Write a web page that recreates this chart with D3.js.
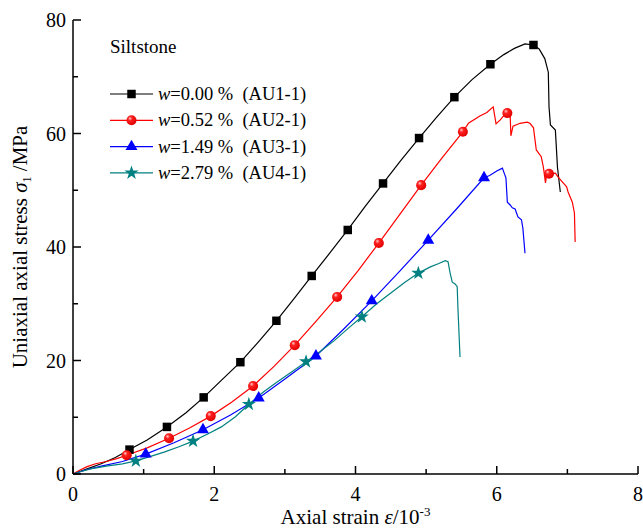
<!DOCTYPE html>
<html>
<head>
<meta charset="utf-8">
<script src="https://cdn.jsdelivr.net/npm/d3@7"></script>
<style>
  body { margin: 0; background: #fff; }
  svg { display: block; }
  text { font-family: "Liberation Serif", "Times New Roman", serif; fill: #000; }
</style>
</head>
<body>
<div id="chart"></div>
<script>
// curves: [strain (10^-3), stress (MPa)]
var au1 = [[0,0],[0.2,0.9],[0.4,1.8],[0.6,2.9],[0.8,4.3],[1.05,6.0],[1.33,8.3],[1.6,10.8],[1.85,13.5],[2.1,16.5],[2.37,19.7],[2.62,23.2],[2.88,27.0],[3.13,30.9],[3.38,34.9],[3.64,39.0],[3.89,43.0],[4.14,47.2],[4.39,51.2],[4.64,55.2],[4.9,59.2],[5.15,62.9],[5.4,66.4],[5.65,69.5],[5.91,72.2],[6.1,73.9],[6.25,75.0],[6.4,75.8],[6.52,75.6],[6.6,74.9],[6.68,73.2],[6.73,70.8],[6.74,64.7],[6.76,61.5],[6.83,60.6],[6.86,54.0],[6.9,49.7]];
var au2 = [[0,0],[0.1,0.7],[0.2,1.3],[0.32,1.8],[0.47,2.2],[0.62,2.7],[0.76,3.3],[1.05,4.6],[1.36,6.3],[1.65,8.1],[1.95,10.2],[2.25,12.7],[2.55,15.5],[2.85,19.0],[3.14,22.7],[3.44,26.9],[3.74,31.2],[4.04,35.9],[4.33,40.7],[4.63,45.8],[4.93,50.9],[5.22,55.6],[5.52,60.3],[5.6,61.8],[5.76,63.1],[5.86,63.7],[5.95,64.7],[5.99,61.7],[6.05,62.4],[6.09,63.0],[6.15,63.6],[6.19,63.3],[6.2,59.6],[6.23,61.3],[6.33,61.8],[6.43,62.0],[6.47,61.8],[6.52,61.0],[6.56,57.1],[6.63,55.9],[6.66,54.1],[6.69,51.3],[6.71,53.0],[6.74,52.9],[6.83,53.0],[6.87,52.3],[6.94,51.3],[6.99,50.6],[7.01,49.7],[7.07,47.9],[7.1,46.0],[7.11,40.9]];
var au3 = [[0,0],[0.1,0.4],[0.2,0.8],[0.4,1.4],[0.7,2.2],[1.03,3.5],[1.43,5.5],[1.84,7.8],[2.23,10.4],[2.63,13.4],[3.03,17.0],[3.44,20.8],[3.83,25.5],[4.23,30.5],[4.63,35.8],[5.03,41.2],[5.43,46.7],[5.82,52.2],[5.9,52.6],[6.0,53.4],[6.08,53.9],[6.1,53.2],[6.13,52.2],[6.15,47.9],[6.19,47.4],[6.22,46.9],[6.26,46.7],[6.3,45.3],[6.35,44.8],[6.37,43.3],[6.4,38.9]];
var au4 = [[0,0],[0.1,0.4],[0.25,0.9],[0.47,1.4],[0.7,1.8],[0.89,2.3],[1.1,3.1],[1.3,3.9],[1.5,4.8],[1.7,5.8],[1.9,7.0],[2.1,8.3],[2.3,10.1],[2.49,12.3],[2.7,14.5],[2.9,16.3],[3.1,18.0],[3.3,19.8],[3.5,21.6],[3.7,23.5],[3.9,25.7],[4.09,27.7],[4.3,30.0],[4.5,31.9],[4.7,33.8],[4.89,35.4],[5.06,36.5],[5.18,37.1],[5.27,37.6],[5.31,37.4],[5.34,35.4],[5.37,33.8],[5.41,33.5],[5.44,33.0],[5.45,29.4],[5.48,20.6]];

// marker positions (strain values where symbols sit)
var marks1 = [0.8,1.33,1.85,2.37,2.88,3.38,3.89,4.39,4.9,5.4,5.91,6.52];
var marks2 = [0.76,1.36,1.95,2.55,3.14,3.74,4.33,4.93,5.52,6.15,6.74];
var marks3 = [1.03,1.84,2.63,3.44,4.23,5.03,5.82];
var marks4 = [0.89,1.7,2.49,3.3,4.09,4.89];

var legendW = ["0.00", "0.52", "1.49", "2.79"];
var legendIds = ["AU1-1", "AU2-1", "AU3-1", "AU4-1"];
var xTicks = [0, 2, 4, 6, 8];
var yTicks = [0, 20, 40, 60, 80];

var W = 643, H = 528;
var margin = {left: 73, right: 5, top: 20, bottom: 54};

var svg = d3.select("#chart").append("svg")
  .attr("width", W).attr("height", H);

var defs = svg.append("defs");
var grad = defs.append("radialGradient").attr("id", "redball")
  .attr("cx", "0.4").attr("cy", "0.4").attr("r", "0.6").attr("fx", "0.35").attr("fy", "0.3");
grad.append("stop").attr("offset", "0").attr("stop-color", "#ffd0d0");
grad.append("stop").attr("offset", "0.35").attr("stop-color", "#ff2020");
grad.append("stop").attr("offset", "1").attr("stop-color", "#e00000");

var x = d3.scaleLinear().domain([0, 8]).range([margin.left, W - margin.right]);
var y = d3.scaleLinear().domain([0, 80]).range([H - margin.bottom, margin.top]);

var series = [
  {data: au1, marks: marks1, color: "#000000", fill: "#000000", sym: d3.symbolSquare, size: 72},
  {data: au2, marks: marks2, color: "#ff0000", fill: "url(#redball)", sym: d3.symbolCircle, size: 80},
  {data: au3, marks: marks3, color: "#0000ff", fill: "#0000ff", sym: d3.symbolTriangle, size: 62},
  {data: au4, marks: marks4, color: "#008080", fill: "#008080", sym: d3.symbolStar, size: 62}
];

var line = d3.line().x(d => x(d[0])).y(d => y(d[1]));

// stress at a given strain, from the curve before the peak
function stressAt(data, sx) {
  for (var i = 1; i < data.length; i++) {
    if (data[i][0] >= sx) {
      var a = data[i - 1], b = data[i];
      var t = (sx - a[0]) / (b[0] - a[0]);
      return a[1] + t * (b[1] - a[1]);
    }
  }
  return data[data.length - 1][1];
}

series.forEach(function(s) {
  svg.append("path")
    .datum(s.data)
    .attr("d", line)
    .attr("fill", "none")
    .attr("stroke", s.color)
    .attr("stroke-width", 1.2);
});

series.forEach(function(s) {
  svg.selectAll(null)
    .data(s.marks)
    .enter().append("path")
    .attr("d", d3.symbol().type(s.sym).size(s.size))
    .attr("transform", d => "translate(" + x(d) + "," + y(stressAt(s.data, d)) + ")")
    .attr("fill", s.fill);
});

// axes
var x0 = x(0), y0 = y(0);
var ax = svg.append("g").attr("stroke", "#000").attr("stroke-width", 1.5);
ax.append("line").attr("x1", x0).attr("x2", x0).attr("y1", y(80)).attr("y2", y0);
ax.append("line").attr("x1", x0).attr("x2", x(8)).attr("y1", y0).attr("y2", y0);

d3.range(0, 81, 10).forEach(function(v) {
  var len = v % 20 === 0 ? 8 : 5;
  ax.append("line").attr("x1", x0).attr("x2", x0 + len).attr("y1", y(v)).attr("y2", y(v));
});
d3.range(0, 9, 1).forEach(function(v) {
  var len = v % 2 === 0 ? 8 : 5;
  ax.append("line").attr("x1", x(v)).attr("x2", x(v)).attr("y1", y0).attr("y2", y0 - len);
});

svg.selectAll(".ylab")
  .data(yTicks)
  .enter().append("text")
  .attr("x", x0 - 7)
  .attr("y", d => y(d) + 7)
  .attr("text-anchor", "end")
  .attr("font-size", 20)
  .text(d => d);

svg.selectAll(".xlab")
  .data(xTicks)
  .enter().append("text")
  .attr("x", d => x(d))
  .attr("y", y0 + 27)
  .attr("text-anchor", "middle")
  .attr("font-size", 20)
  .text(d => d);

// axis titles
var xt = svg.append("text")
  .attr("x", x(4)).attr("y", 524)
  .attr("text-anchor", "middle")
  .attr("font-size", 21);
xt.append("tspan").text("Axial strain ");
xt.append("tspan").attr("font-style", "italic").text("ε");
xt.append("tspan").text("/10");
xt.append("tspan").attr("font-size", 13).attr("dy", -8).text("-3");

var yt = svg.append("text")
  .attr("transform", "translate(27," + y(40) + ") rotate(-90)")
  .attr("text-anchor", "middle")
  .attr("font-size", 21);
yt.append("tspan").text("Uniaxial axial stress ");
yt.append("tspan").attr("font-style", "italic").text("σ");
yt.append("tspan").attr("font-size", 12).attr("dy", 4).text("1");
yt.append("tspan").attr("dy", -4).text(" /MPa");

svg.append("text")
  .attr("x", 110).attr("y", 53)
  .attr("font-size", 19)
  .text("Siltstone");

// legend
var leg = svg.append("g");
series.forEach(function(s, i) {
  var ly = 94 + i * 26.3;
  leg.append("line").attr("x1", 110).attr("x2", 153).attr("y1", ly).attr("y2", ly)
    .attr("stroke", s.color).attr("stroke-width", 1.2);
  leg.append("path")
    .attr("d", d3.symbol().type(s.sym).size(s.size))
    .attr("transform", "translate(131.5," + ly + ")")
    .attr("fill", s.fill);
  var t = leg.append("text").attr("x", 158).attr("y", ly + 6).attr("font-size", 18.5);
  t.append("tspan").attr("font-style", "italic").text("w");
  t.append("tspan").text("=" + legendW[i] + " %\u00a0\u00a0(" + legendIds[i] + ")");
});
</script>
</body>
</html>
